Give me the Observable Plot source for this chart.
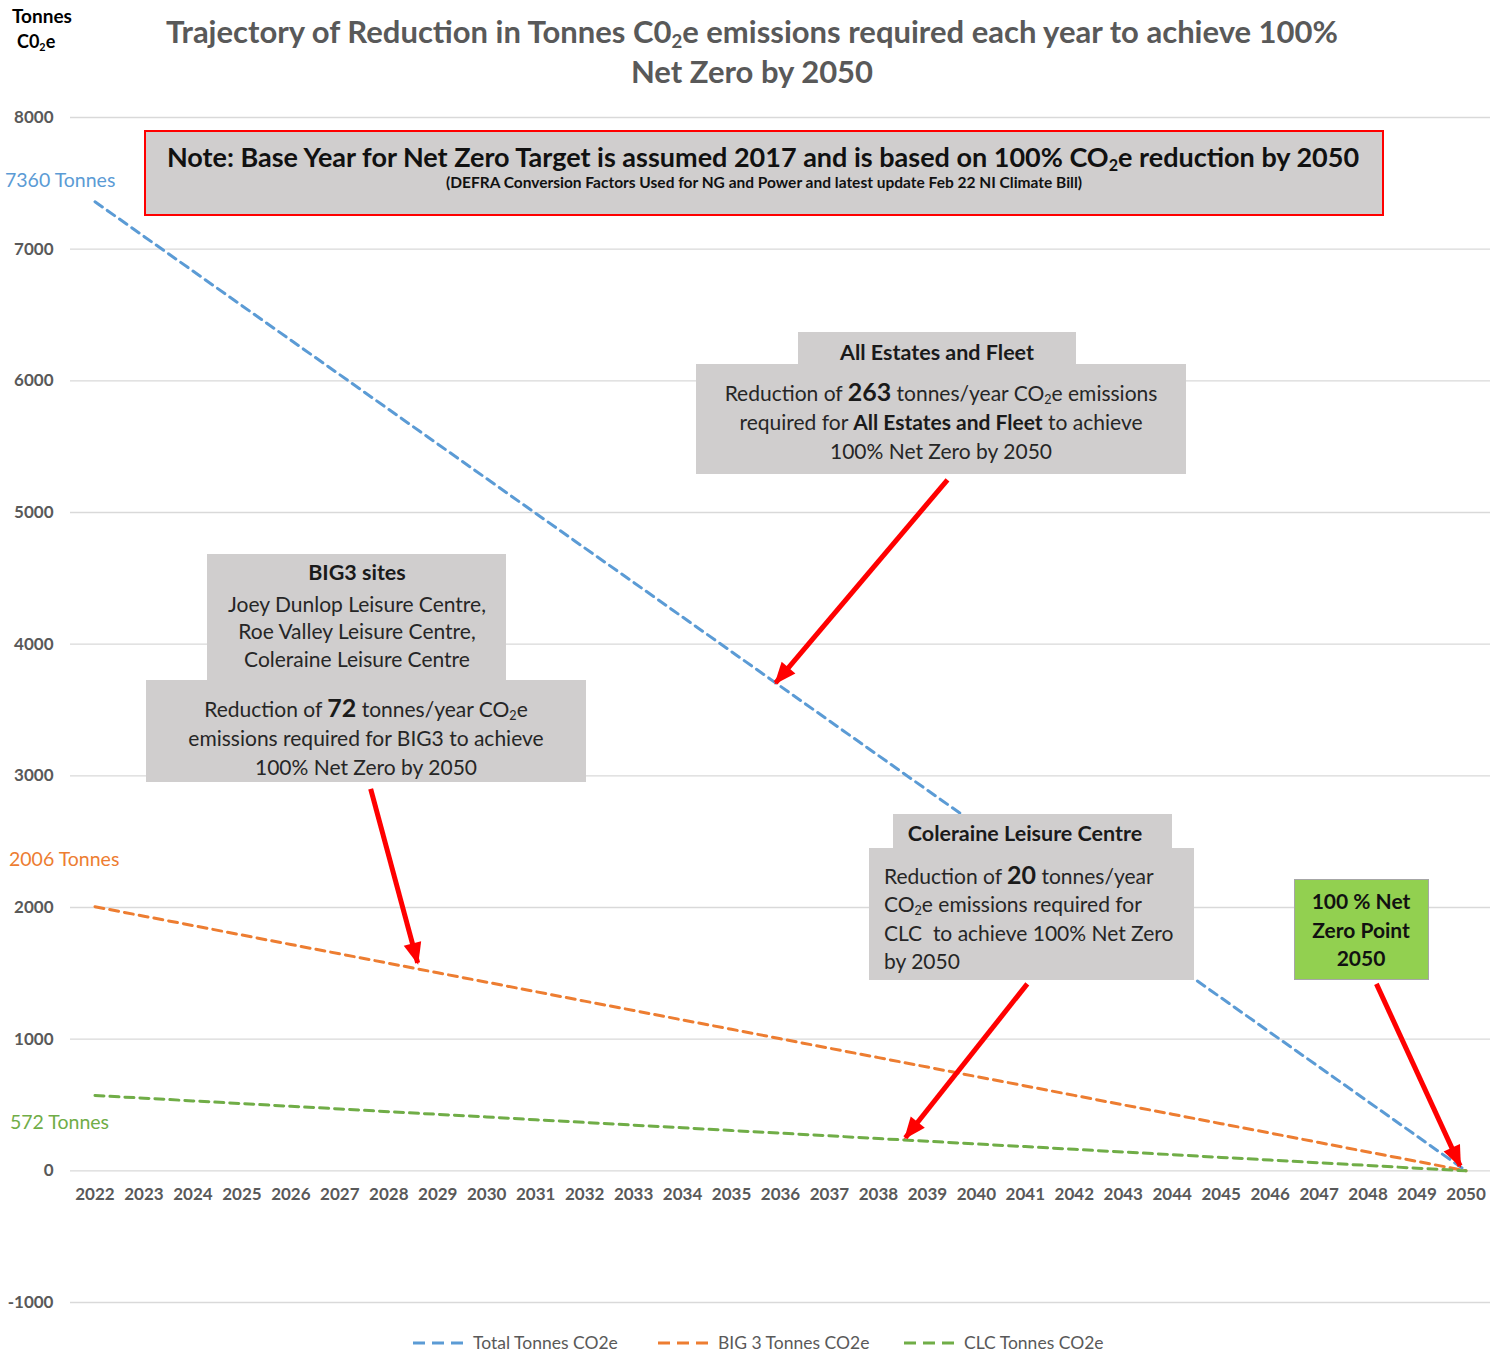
<!DOCTYPE html>
<html><head><meta charset="utf-8">
<script src="https://cdn.jsdelivr.net/npm/d3@7"></script>
<script src="https://cdn.jsdelivr.net/npm/@observablehq/plot@0.6"></script>
<style>
body{margin:0;background:#fff;}
#wrap{position:relative;width:1499px;height:1353px;font-family:Lato,"Open Sans",sans-serif;overflow:hidden;background:#fff}
#wrap svg{position:absolute;left:0;top:0}
.t{position:absolute;white-space:nowrap;line-height:1}
.box{position:absolute;background:#d0cece;box-sizing:border-box}
sub{font-size:0.6em;vertical-align:-0.3em;line-height:0}
</style></head><body><div id="wrap"></div>
<script>
// ---- data ----
const years = [2022,2023,2024,2025,2026,2027,2028,2029,2030,2031,2032,2033,2034,2035,2036,2037,2038,2039,2040,2041,2042,2043,2044,2045,2046,2047,2048,2049,2050];
const totalTonnes = [7360,7097,6834,6571,6309,6046,5783,5520,5257,4994,4731,4469,4206,3943,3680,3417,3154,2891,2629,2366,2103,1840,1577,1314,1051,789,526,263,0];
const big3Tonnes = [2006,1934,1863,1791,1719,1648,1576,1504,1433,1361,1289,1218,1146,1075,1003,931,860,788,716,645,573,501,430,358,287,215,143,72,0];
const clcTonnes = [572,552,531,511,490,470,449,429,409,388,368,347,327,306,286,266,245,225,204,184,163,143,123,102,82,61,41,20,0];
const yTicks = [-1000,0,1000,2000,3000,4000,5000,6000,7000,8000];
const seriesNames = ["Total Tonnes CO2e","BIG 3 Tonnes CO2e","CLC Tonnes CO2e"];
const seriesColors = ["#5B9BD5","#ED7D31","#70AD47"];

// annotation arrows (data space: year, tonnes)
const arrowAnnotations = [
  {x1:2039.41, y1:5248, x2:2035.9, y2:3706},
  {x1:2027.63, y1:2901, x2:2028.59, y2:1580},
  {x1:2041.04, y1:1420, x2:2038.55, y2:251},
  {x1:2048.17, y1:1420, x2:2049.88, y2:38}
];

const seriesValues = [totalTonnes, big3Tonnes, clcTonnes];
const rows = seriesNames.flatMap((s, i) => years.map((yr, j) => ({series: s, year: yr, value: seriesValues[i][j]})));

const chart = Plot.plot({
  width: 1499, height: 1353,
  marginTop: 117, marginBottom: 51, marginLeft: 70, marginRight: 9,
  x: {domain: [2021.5, 2050.5], axis: null},
  y: {domain: [-1000, 8000], axis: null},
  color: {domain: seriesNames, range: seriesColors},
  style: {fontFamily: "Lato, sans-serif", background: "transparent", overflow: "visible"},
  marks: [
    Plot.ruleY(yTicks, {stroke: "#d9d9d9", strokeWidth: 1.3}),
    Plot.axisY({ticks: yTicks, tickSize: 0, tickPadding: 17, fontSize: 17, fontWeight: "bold", fill: "#595959", tickFormat: d => String(d)}),
    Plot.text(years, {x: d => d, y: 0, dy: 24, text: d => String(d), fontSize: 17, fontWeight: "bold", fill: "#595959"}),
    Plot.line(rows, {x: "year", y: "value", z: "series", stroke: "series", strokeWidth: 3, strokeDasharray: "9,6"}),
    Plot.link(arrowAnnotations, {x1: "x1", y1: "y1", x2: "x2", y2: "y2", stroke: "#ff0000", strokeWidth: 5})
  ]
});

const wrap = document.getElementById("wrap");
wrap.appendChild(chart);

// filled arrow heads
const svg = d3.select(chart);
const defs = svg.append("defs");
defs.append("marker").attr("id", "redhead").attr("markerUnits", "userSpaceOnUse")
  .attr("viewBox", "-22 -10 24 20").attr("refX", 0).attr("refY", 0)
  .attr("markerWidth", 24).attr("markerHeight", 20).attr("orient", "auto")
  .append("path").attr("d", "M2,0 L-20,-9 L-20,9 Z").attr("fill", "#ff0000");
svg.selectAll('g[aria-label="link"] path').attr("marker-end", "url(#redhead)");

// ---- overlays (titles, annotation boxes, legend) ----
function box(x, y, w, h, style) {
  const d = document.createElement("div");
  d.className = "box";
  Object.assign(d.style, {left: x + "px", top: y + "px", width: w + "px", height: h + "px"}, style || {});
  wrap.appendChild(d);
}
function txt(x, y, html, style, anchor) {
  const d = document.createElement("div");
  d.className = "t";
  d.innerHTML = html;
  Object.assign(d.style, {left: x + "px", top: y + "px", transform: anchor === "start" ? "translate(0,-50%)" : "translate(-50%,-50%)"}, style || {});
  wrap.appendChild(d);
}

const titleStyle = {fontSize: "31px", fontWeight: "bold", color: "#595959"};
txt(752, 31, "Trajectory of Reduction in Tonnes C0<sub>2</sub>e emissions required each year to achieve 100%", titleStyle);
txt(752, 71, "Net Zero by 2050", titleStyle);
txt(12, 15, "Tonnes", {fontSize: "19px", fontWeight: "bold", color: "#000"}, "start");
txt(17, 41, "C0<sub>2</sub>e", {fontSize: "18px", fontWeight: "bold", color: "#000"}, "start");

// note box
box(144, 130, 1240, 86, {border: "2px solid #ff0000"});
txt(763, 156, "Note: Base Year for Net Zero Target is assumed 2017 and is based on 100% CO<sub>2</sub>e reduction by 2050", {fontSize: "27px", fontWeight: "bold", color: "#111"});
txt(764, 183, "(DEFRA Conversion Factors Used for NG and Power and latest update Feb 22 NI Climate Bill)", {fontSize: "15.5px", fontWeight: "bold", color: "#111"});

// side value labels
txt(5, 180, "7360 Tonnes", {fontSize: "19.5px", color: seriesColors[0]}, "start");
txt(9, 859, "2006 Tonnes", {fontSize: "19.5px", color: seriesColors[1]}, "start");
txt(10, 1122, "572 Tonnes", {fontSize: "19.5px", color: seriesColors[2]}, "start");

const bt = {fontSize: "21px", color: "#262626"};
const hd = {fontSize: "21.5px", fontWeight: "bold", color: "#1a1a1a"};
const big = '<b style="font-size:25px;color:#1a1a1a">';

// All Estates and Fleet
box(798, 332, 278, 34);
box(696, 364, 490, 110);
txt(937, 353, "All Estates and Fleet", hd);
txt(941, 391, "Reduction of " + big + "263</b> tonnes/year CO<sub>2</sub>e emissions", bt);
txt(941, 421, "required for <b style='color:#1a1a1a'>All Estates and Fleet</b> to achieve", bt);
txt(941, 450, "100% Net Zero by 2050", bt);

// BIG3
box(207, 554, 299, 128);
box(146, 680, 440, 102);
txt(357, 573, "BIG3 sites", hd);
txt(357, 603, "Joey Dunlop Leisure Centre,", bt);
txt(357, 630, "Roe Valley Leisure Centre,", bt);
txt(357, 658, "Coleraine Leisure Centre", bt);
txt(366, 707, "Reduction of " + big + "72</b> tonnes/year CO<sub>2</sub>e", bt);
txt(366, 737, "emissions required for BIG3 to achieve", bt);
txt(366, 766, "100% Net Zero by 2050", bt);

// CLC
box(893, 814, 279, 36);
box(869, 848, 325, 132);
txt(1025, 834, "Coleraine Leisure Centre", hd);
txt(884, 874, "Reduction of " + big + "20</b> tonnes/year", bt, "start");
txt(884, 903, "CO<sub>2</sub>e emissions required for", bt, "start");
txt(884, 932, "CLC&nbsp; to achieve 100% Net Zero", bt, "start");
txt(884, 960, "by 2050", bt, "start");

// Green box
box(1294, 879, 135, 101, {background: "#92d050", border: "1.5px solid #a6a6a6"});
const gs = {fontSize: "21px", fontWeight: "bold", color: "#111"};
txt(1361, 900, "100 % Net", gs);
txt(1361, 929, "Zero Point", gs);
txt(1361, 957, "2050", gs);

// legend
const legendPos = [[413, 473], [658, 718], [904, 964]];
seriesNames.forEach((s, i) => {
  const [sx, tx] = legendPos[i];
  const ls = document.createElementNS("http://www.w3.org/2000/svg", "svg");
  ls.setAttribute("width", 50); ls.setAttribute("height", 8);
  ls.style.position = "absolute"; ls.style.left = sx + "px"; ls.style.top = "1339px";
  ls.innerHTML = `<line x1="0" y1="4" x2="50" y2="4" stroke="${seriesColors[i]}" stroke-width="3" stroke-dasharray="12,7"/>`;
  wrap.appendChild(ls);
  txt(tx, 1343, s, {fontSize: "17.5px", color: "#595959"}, "start");
});
</script>
</body></html>
